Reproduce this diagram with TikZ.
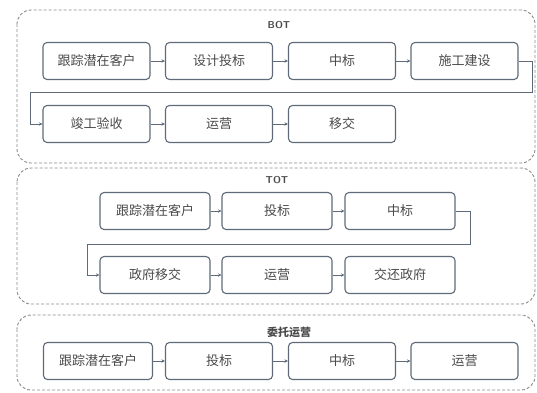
\documentclass[tikz,border=0pt]{standalone}
\usepackage{fontspec}
\newfontfamily\cjk{Noto Sans CJK SC}
\usetikzlibrary{arrows.meta}
\definecolor{boxc}{HTML}{5F6B78}
\definecolor{txtc}{HTML}{4A4A4A}
\definecolor{grpc}{HTML}{8A8A8A}
\tikzset{
  stepbox/.style={draw=boxc, line width=1.1pt, rounded corners=4pt, fill=white,
    minimum width=107pt, minimum height=37pt, inner sep=0pt,
    font=\cjk\fontsize{13}{13}\selectfont, text=txtc},
  group/.style={draw=grpc, dash pattern=on 3pt off 2pt, line width=0.9pt, rounded corners=14pt},
  link/.style={draw=boxc, line width=1pt, -{Stealth[length=3.5pt,width=3.5pt]}},
  gtitle/.style={font=\sffamily\bfseries\fontsize{10}{10}\selectfont, text=txtc}
}
\begin{document}
\begin{tikzpicture}[x=1pt,y=-1pt]
\useasboundingbox (0,0) rectangle (537,392);
% groups
\draw[group] (17,10) rectangle (535,163);
\draw[group] (17,168) rectangle (535,304);
\draw[group] (17,315) rectangle (535,390);
\node[gtitle] (tb) at (279,25) {BOT};
\node[gtitle] (tt) at (277,180) {TOT};
\node[font=\cjk\bfseries\fontsize{11}{11}\selectfont, text=txtc] (tw) at (289,332) {委托运营};
% BOT
\node[stepbox] (b1) at (96.5,61) {跟踪潜在客户};
\node[stepbox] (b2) at (219,61) {设计投标};
\node[stepbox] (b3) at (342,61) {中标};
\node[stepbox] (b4) at (464.5,61) {施工建设};
\node[stepbox] (b5) at (96.5,124) {竣工验收};
\node[stepbox] (b6) at (219,124) {运营};
\node[stepbox] (b7) at (342,124) {移交};
\draw[link] (b1) -- (b2);
\draw[link] (b2) -- (b3);
\draw[link] (b3) -- (b4);
\coordinate (bc1) at (532,61);
\coordinate (bc2) at (532,92);
\coordinate (bc3) at (30,92);
\coordinate (bc4) at (30,124);
\draw[link] (b4.east) -- (bc1) -- (bc2) -- (bc3) -- (bc4) -- (b5.west);
\draw[link] (b5) -- (b6);
\draw[link] (b6) -- (b7);
% TOT
\node[stepbox, minimum width=110pt] (t1) at (155,211) {跟踪潜在客户};
\node[stepbox, minimum width=110pt] (t2) at (277,211) {投标};
\node[stepbox, minimum width=110pt] (t3) at (400,211) {中标};
\node[stepbox, minimum width=110pt] (t4) at (155,275) {政府移交};
\node[stepbox, minimum width=110pt] (t5) at (277,275) {运营};
\node[stepbox, minimum width=110pt] (t6) at (400,275) {交还政府};
\draw[link] (t1) -- (t2);
\draw[link] (t2) -- (t3);
\coordinate (tc1) at (470,211);
\coordinate (tc2) at (470,244);
\coordinate (tc3) at (87,244);
\coordinate (tc4) at (87,275);
\draw[link] (t3.east) -- (tc1) -- (tc2) -- (tc3) -- (tc4) -- (t4.west);
\draw[link] (t4) -- (t5);
\draw[link] (t5) -- (t6);
% 委托运营
\node[stepbox, minimum width=109pt] (w1) at (98,361) {跟踪潜在客户};
\node[stepbox] (w2) at (219,361) {投标};
\node[stepbox] (w3) at (342,361) {中标};
\node[stepbox] (w4) at (464.5,361) {运营};
\draw[link] (w1) -- (w2);
\draw[link] (w2) -- (w3);
\draw[link] (w3) -- (w4);
\end{tikzpicture}
\end{document}
